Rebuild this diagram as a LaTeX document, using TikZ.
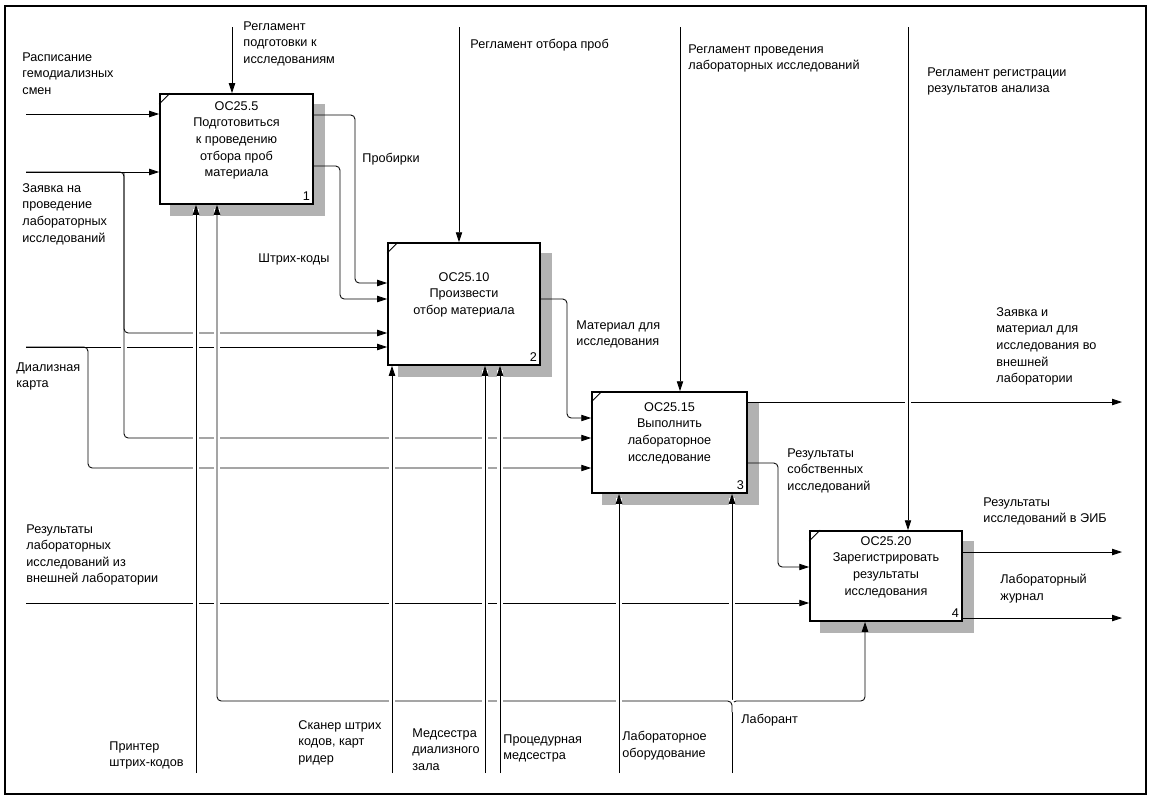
\documentclass[tikz,border=0pt]{standalone}
\usepackage{fontspec}
\setmainfont{Liberation Sans}
\usetikzlibrary{arrows.meta, positioning, fit, backgrounds}

\tikzset{
  fn/.style={draw, line width=1.3pt, fill=white, inner sep=0pt},
  fntext/.style={align=center, inner sep=0pt, font=\fontsize{9pt}{11.8pt}\selectfont},
  lbl/.style={align=left, anchor=north west, inner sep=0pt, font=\fontsize{9pt}{11.8pt}\selectfont},
  num/.style={anchor=south east, inner sep=2.5pt, font=\fontsize{9pt}{11pt}\selectfont},
  hop/.style={preaction={draw=white, line width=4pt, -, shorten >=3pt}},
}

\begin{document}
\begin{tikzpicture}[x=0.025cm, y=-0.025cm, >={Triangle[length=7pt,width=4.5pt]}, line width=0.6pt]
  \useasboundingbox (0,0) rectangle (1161,805);
  \draw[line width=0.8pt] (5,6) rectangle (1146,794);

  % работы
  \node[fn, fit={(160,94) (313,204)}] (b1) {};
  \node[fn, fit={(388,243) (540,365)}] (b2) {};
  \node[fn, fit={(592,392) (747,493)}] (b3) {};
  \node[fn, fit={(810,531) (962,621)}] (b4) {};
  \begin{scope}[on background layer]
    \foreach \bx in {b1,b2,b3,b4}
      \fill[black!30] ([shift={(11,11)}]\bx.south west) rectangle ([shift={(11,11)}]\bx.north east);
  \end{scope}
  \foreach \bx in {b1,b2,b3,b4}
    \draw ([yshift=-0.275cm]\bx.north west) -- ([xshift=0.275cm]\bx.north west);

  \node[fntext, below=0.2cm of b1.north] (t1) {ОС25.5\\Подготовиться\\к проведению\\отбора проб\\материала};
  \node[fntext, below=0.75cm of b2.north] (t2) {ОС25.10\\Произвести\\отбор материала};
  \node[fntext, below=0.275cm of b3.north] (t3) {ОС25.15\\Выполнить\\лабораторное\\исследование};
  \node[fntext, below=0.15cm of b4.north] (t4) {ОС25.20\\Зарегистрировать\\результаты\\исследования};
  \node[num] (n1) at (b1.south east) {1};
  \node[num] (n2) at (b2.south east) {2};
  \node[num] (n3) at (b3.south east) {3};
  \node[num] (n4) at (b4.south east) {4};

  % концы и изломы
  \coordinate (rasp) at (26,114);
  \coordinate (zayav) at (26,172);
  \coordinate (dial) at (26,347);
  \coordinate (vnesh) at (26,603);
  \coordinate (reg1) at (232,27);
  \coordinate (reg2) at (459,27);
  \coordinate (reg3) at (680,27);
  \coordinate (reg4) at (908,27);
  \coordinate (print) at (196,773);
  \coordinate (scan) at (392,773);
  \coordinate (medd) at (485,773);
  \coordinate (medp) at (500,773);
  \coordinate (obor) at (619,773);
  \coordinate (lab) at (732,773);
  \coordinate (outv) at (1122,402);
  \coordinate (oute) at (1122,552);
  \coordinate (outj) at (1122,618);
  \coordinate (prob) at (355,115);  \coordinate (prob2) at (355,283);
  \coordinate (shtr) at (340,166);  \coordinate (shtr2) at (340,299);
  \coordinate (mat) at (567,299);   \coordinate (mat2) at (567,418);
  \coordinate (res) at (778,463);   \coordinate (res2) at (778,567);
  \coordinate (zv) at (124,172);    \coordinate (zv2) at (124,333);  \coordinate (zv3) at (124,438);
  \coordinate (dk) at (88,347);     \coordinate (dk2) at (88,468);
  \coordinate (lb0) at (732,712);   \coordinate (lb) at (732,701);
  \coordinate (lb1) at (217,701);   \coordinate (lb2) at (865,701);

  % стрелки
  \draw[->] (rasp) -- (rasp -| b1.west);
  \draw[->] (dial) -- (dial -| b2.west);
  \draw[->] (vnesh) -- (vnesh -| b4.west);
  \draw[->, rounded corners=3pt] (dial) -- (dk) -- (dk2) -- (dk2 -| b3.west);
  \draw[->, rounded corners=3pt] (b1.east |- prob) -- (prob) -- (prob2) -- (prob2 -| b2.west);
  \draw[->, rounded corners=3pt] (b1.east |- shtr) -- (shtr) -- (shtr2) -- (shtr2 -| b2.west);
  \draw[->, rounded corners=3pt] (b2.east |- mat) -- (mat) -- (mat2) -- (mat2 -| b3.west);
  \draw[->, rounded corners=3pt] (b3.east |- res) -- (res) -- (res2) -- (res2 -| b4.west);
  \draw[->] (b3.east |- outv) -- (outv);
  \draw[->] (b4.east |- oute) -- (oute);
  \draw[->] (b4.east |- outj) -- (outj);
  \draw[->] (reg1) -- (reg1 |- b1.north);
  \draw[->] (reg2) -- (reg2 |- b2.north);
  \draw[->] (reg3) -- (reg3 |- b3.north);
  \draw[->, hop] (reg4) -- (reg4 |- b4.north);
  \draw[->, hop, rounded corners=3pt] (zayav) -- (zv) -- (zv3) -- (zv3 -| b3.west);
  \draw[->, rounded corners=3pt] (zv) -- (zv2) -- (zv2 -| b2.west);
  \draw[->] (zayav) -- (zayav -| b1.west);
  \draw[->, hop] (lab) -- (lab |- b3.south);
  \draw[->, rounded corners=3pt] (lb0) -- (lb) -- (lb2) -- (lb2 |- b4.south);
  \draw[->, hop, rounded corners=3pt] (lb0) -- (lb) -- (lb1) -- (lb1 |- b1.south);
  \foreach \m/\bx in {print/b1, scan/b2, medd/b2, medp/b2, obor/b3}
    \draw[->, hop] (\m) -- (\m |- \bx.south);

  % подписи
  \node[lbl] (tReg1) at (243,21) {Регламент\\подготовки к\\исследованиям};
  \node[lbl] (tRasp) at (22,52) {Расписание\\гемодиализных\\смен};
  \node[lbl] (tZayav) at (22,183) {Заявка на\\проведение\\лабораторных\\исследований};
  \node[lbl] (tReg2) at (470,39) {Регламент отбора проб};
  \node[lbl] (tReg3) at (688,44) {Регламент проведения\\лабораторных исследований};
  \node[lbl] (tReg4) at (927,67) {Регламент регистрации\\результатов анализа};
  \node[lbl] (tProb) at (362,153) {Пробирки};
  \node[lbl] (tShtr) at (258,253) {Штрих-коды};
  \node[lbl] (tMat) at (576,320) {Материал для\\исследования};
  \node[lbl] (tDial) at (16,362) {Диализная\\карта};
  \node[lbl] (tOutV) at (996,307) {Заявка и\\материал для\\исследования во\\внешней\\лаборатории};
  \node[lbl] (tRes) at (787,448) {Результаты\\собственных\\исследований};
  \node[lbl] (tEIB) at (983,497) {Результаты\\исследований в ЭИБ};
  \node[lbl] (tVnesh) at (26,524) {Результаты\\лабораторных\\исследований из\\внешней лаборатории};
  \node[lbl] (tJourn) at (1000,574) {Лабораторный\\журнал};
  \node[lbl] (tLab) at (741,714) {Лаборант};
  \node[lbl] (tPrint) at (109,741) {Принтер\\штрих-кодов};
  \node[lbl] (tScan) at (298,720) {Сканер штрих\\кодов, карт\\ридер};
  \node[lbl] (tMedd) at (412,728) {Медсестра\\диализного\\зала};
  \node[lbl] (tMedp) at (503,734) {Процедурная\\медсестра};
  \node[lbl] (tObor) at (622,731) {Лабораторное\\оборудование};
\end{tikzpicture}
\end{document}
